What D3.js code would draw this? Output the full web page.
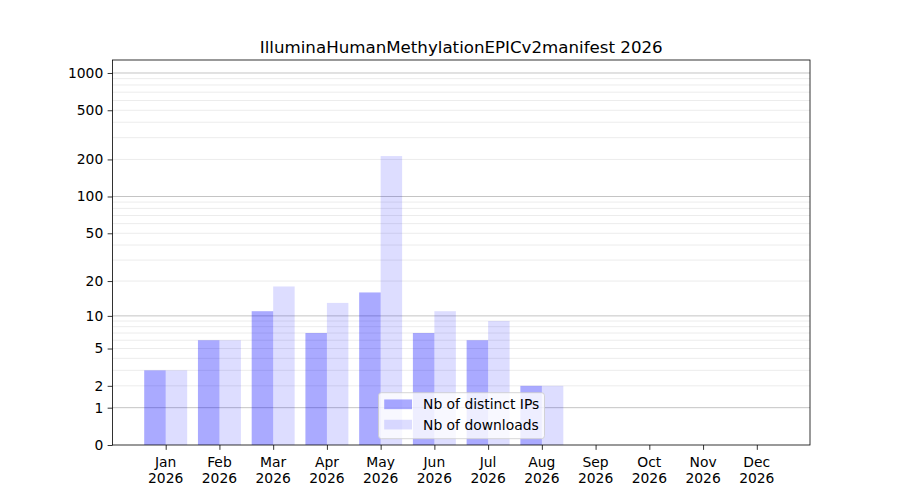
<!DOCTYPE html>
<html>
<head>
<meta charset="utf-8">
<script src="https://cdn.jsdelivr.net/npm/d3@7"></script>
<style>
  body { margin: 0; background: #fff; }
  text { font-family: "DejaVu Sans", sans-serif; fill: #000; }
</style>
</head>
<body>
<svg id="chart" width="900" height="500"></svg>
<script>
const title = "IlluminaHumanMethylationEPICv2manifest 2026";
const months = ["Jan", "Feb", "Mar", "Apr", "May", "Jun", "Jul", "Aug", "Sep", "Oct", "Nov", "Dec"];
const year = "2026";
const distinctIPs = [3, 6, 11, 7, 16, 7, 6, 2, 0, 0, 0, 0];
const downloads = [3, 6, 18, 13, 213, 11, 9, 2, 0, 0, 0, 0];
const yTicks = [0, 1, 2, 5, 10, 20, 50, 100, 200, 500, 1000];
const majorGrid = [1, 10, 100, 1000];
const minorGrid = [2, 3, 4, 5, 6, 7, 8, 9, 20, 30, 40, 50, 60, 70, 80, 90, 200, 300, 400, 500, 600, 700, 800, 900];
const seriesNames = ["Nb of distinct IPs", "Nb of downloads"];

const svg = d3.select("#chart");
const L = 112.5, R = 810, T = 60, B = 445;
const FS = 13.89;

const x = d3.scaleLinear().domain([-0.99, 11.99]).range([L, R]);
const y = d3.scaleSymlog().constant(1).domain([0, 1273]).range([B, T]);

// grid
const g = svg.append("g");
g.selectAll(".minor").data(minorGrid).enter().append("line")
  .attr("x1", L).attr("x2", R)
  .attr("y1", d => y(d)).attr("y2", d => y(d))
  .attr("stroke", "#ececec").attr("stroke-width", 1);
g.selectAll(".major").data(majorGrid).enter().append("line")
  .attr("x1", L).attr("x2", R)
  .attr("y1", d => y(d)).attr("y2", d => y(d))
  .attr("stroke", "#c4c4c4").attr("stroke-width", 1);

// bars
const bw = 0.4;
svg.append("g").selectAll("rect").data(distinctIPs).enter().append("rect")
  .attr("x", (d, i) => x(i - bw))
  .attr("width", (d, i) => x(i) - x(i - bw))
  .attr("y", d => y(d))
  .attr("height", d => y(0) - y(d))
  .attr("fill", "blue").attr("fill-opacity", 0.333);
svg.append("g").selectAll("rect").data(downloads).enter().append("rect")
  .attr("x", (d, i) => x(i))
  .attr("width", (d, i) => x(i + bw) - x(i))
  .attr("y", d => y(d))
  .attr("height", d => y(0) - y(d))
  .attr("fill", "blue").attr("fill-opacity", 0.133);

// axes
const yAxis = d3.axisLeft(y).tickValues(yTicks).tickFormat(d3.format("d")).tickSize(4.86).tickPadding(4.4);
const ya = svg.append("g").attr("transform", `translate(${L},0)`).call(yAxis);
ya.select(".domain").remove();
ya.selectAll("text").style("font-size", FS + "px").style("font-family", "DejaVu Sans");
ya.selectAll("line").attr("stroke", "#000").attr("stroke-width", 0.8);

const xAxis = d3.axisBottom(x).tickValues(d3.range(12)).tickFormat("").tickSize(4.86);
const xa = svg.append("g").attr("transform", `translate(0,${B})`).call(xAxis);
xa.select(".domain").remove();
xa.selectAll("line").attr("stroke", "#000").attr("stroke-width", 0.8);
months.forEach((m, i) => {
  const t = svg.append("text").attr("x", x(i)).attr("y", 467.3)
    .attr("text-anchor", "middle").style("font-size", FS + "px");
  t.append("tspan").attr("x", x(i)).text(m);
  t.append("tspan").attr("x", x(i)).attr("dy", 15.9).text(year);
});

// frame
svg.append("rect").attr("x", L).attr("y", T).attr("width", R - L).attr("height", B - T)
  .attr("fill", "none").attr("stroke", "#000").attr("stroke-width", 0.8);

// title
svg.append("text").attr("x", (L + R) / 2).attr("y", 52.5).attr("text-anchor", "middle")
  .style("font-size", "16.67px").text(title);

// legend
const lg = svg.append("g");
lg.append("rect").attr("x", 378.5).attr("y", 392.7).attr("width", 166).attr("height", 46)
  .attr("rx", 3).attr("fill", "#fff").attr("fill-opacity", 0.8)
  .attr("stroke", "#cccccc").attr("stroke-opacity", 0.8).attr("stroke-width", 1);
const legOps = [0.333, 0.133];
seriesNames.forEach((s, i) => {
  const cy = 404.3 + i * 20.3;
  lg.append("rect").attr("x", 384.2).attr("y", cy - 4.85).attr("width", 27.8).attr("height", 9.7)
    .attr("fill", "blue").attr("fill-opacity", legOps[i]);
  lg.append("text").attr("x", 423).attr("y", cy + 5).style("font-size", FS + "px").text(s);
});
</script>
</body>
</html>
